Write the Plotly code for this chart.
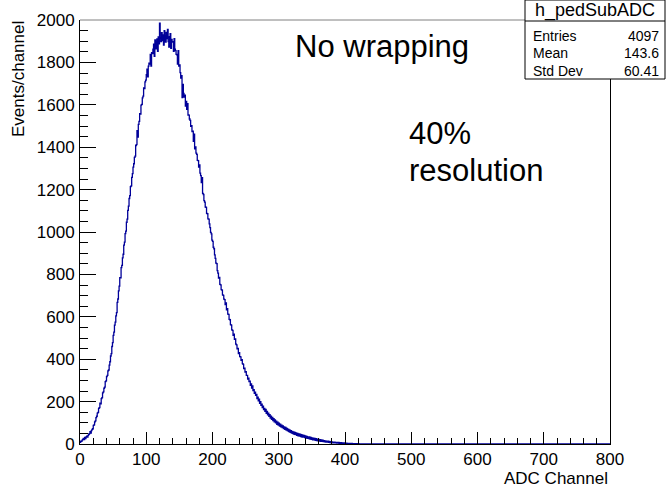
import numpy as np
import plotly.graph_objects as go

# ---------------- data ----------------
hist_name = "h_pedSubADC"
x_title = "ADC Channel"
y_title = "Events/channel"
x_range = [0, 800]
y_range = [0, 2000]
x_tick_vals = [0, 100, 200, 300, 400, 500, 600, 700, 800]
y_tick_vals = [0, 200, 400, 600, 800, 1000, 1200, 1400, 1600, 1800, 2000]

stats_labels = ["Entries", "Mean", "Std Dev"]
stats_values = ["4097", "143.6", "60.41"]

note_lines = ["No wrapping", "40%", "resolution"]

# counts per 1-channel bin, channels 0..799
counts = [
    8, 14, 12, 18, 22, 27, 21, 31, 26, 33,
    37, 32, 41, 46, 49, 58, 51, 63, 69, 72,
    88, 90, 104, 109, 124, 131, 146, 149, 168, 172,
    193, 189, 214, 219, 241, 246, 263, 268, 294, 298,
    318, 324, 345, 349, 372, 388, 415, 426, 460, 478,
    512, 528, 561, 575, 604, 620, 668, 684, 722, 745,
    785, 784, 832, 843, 878, 895, 938, 952, 992, 1004,
    1046, 1061, 1102, 1122, 1158, 1172, 1214, 1218, 1258, 1275,
    1306, 1322, 1352, 1358, 1408, 1412, 1478, 1448, 1508, 1522,
    1558, 1556, 1598, 1602, 1633, 1641, 1680, 1676, 1708, 1716,
    1742, 1768, 1732, 1782, 1797, 1792, 1838, 1782, 1846, 1842,
    1862, 1886, 1828, 1906, 1864, 1895, 1911, 1852, 1920, 1888,
    1985, 1914, 1898, 1940, 1903, 1930, 1882, 1950, 1924, 1896,
    1941, 1912, 1956, 1898, 1872, 1921, 1936, 1866, 1908, 1898,
    1896, 1852, 1912, 1862, 1856, 1838, 1836, 1792, 1856, 1782,
    1788, 1752, 1726, 1738, 1634, 1696, 1654, 1636, 1646, 1594,
    1616, 1578, 1606, 1552, 1551, 1533, 1527, 1498, 1502, 1473,
    1476, 1428, 1462, 1392, 1401, 1372, 1366, 1338, 1337, 1306,
    1317, 1278, 1266, 1233, 1256, 1182, 1177, 1148, 1141, 1118,
    1116, 1088, 1086, 1062, 1061, 1038, 1021, 998, 991, 962,
    956, 928, 921, 892, 876, 853, 851, 818, 806, 783,
    786, 753, 751, 728, 726, 703, 701, 683, 681, 658,
    666, 633, 638, 613, 611, 588, 586, 563, 561, 538,
    536, 513, 518, 494, 496, 471, 468, 449, 451, 426,
    431, 412, 411, 394, 398, 379, 376, 356, 358, 339,
    341, 324, 324, 306, 311, 294, 296, 277, 284, 264,
    274, 252, 256, 239, 244, 229, 234, 214, 221, 204,
    211, 192, 200, 182, 188, 172, 178, 162, 168, 154,
    163, 144, 154, 137, 146, 131, 138, 122, 131, 116,
    126, 110, 119, 104, 114, 100, 108, 93, 103, 89,
    98, 85, 94, 81, 89, 77, 85, 73, 81, 69,
    78, 66, 74, 62, 70, 59, 66, 55, 63, 52,
    60, 49, 57, 46, 55, 44, 52, 41, 50, 39,
    48, 37, 46, 35, 44, 33, 42, 32, 40, 30,
    38, 28, 36, 27, 34, 25, 33, 23, 31, 22,
    29, 20, 28, 19, 26, 17, 25, 16, 23, 15,
    22, 14, 20, 13, 19, 12, 18, 11, 16, 10,
    15, 9, 14, 9, 13, 8, 12, 7, 11, 6,
    10, 6, 9, 5, 9, 5, 8, 4, 7, 4,
    7, 3, 6, 3, 6, 3, 5, 2, 5, 2,
    4, 2, 4, 2, 3, 1, 3, 1, 3, 1,
    3, 1, 2, 1, 2, 1, 2, 0, 2, 0,
    2, 0, 1, 0, 1, 1, 0, 1, 0, 1,
    1, 0, 0, 1, 0, 1, 0, 0, 1, 0,
    0, 1, 0, 0, 0, 1, 0, 0, 0, 1,
    0, 0, 0, 1, 0, 0, 0, 0, 1, 0,
    0, 0, 0, 0, 0, 0, 0, 0, 0, 0, 0, 0, 0, 0, 0, 0, 0, 0, 0, 0,
    0, 0, 0, 0, 0, 0, 0, 0, 0, 0, 0, 0, 0, 0, 0, 0, 0, 0, 0, 0,
    0, 0, 0, 0, 0, 0, 0, 0, 0, 0, 0, 0, 0, 0, 0, 0, 0, 0, 0, 0,
    0, 0, 0, 0, 0, 0, 0, 0, 0, 0, 0, 0, 0, 0, 0, 0, 0, 0, 0, 0,
    0, 0, 0, 0, 0, 0, 0, 0, 0, 0, 0, 0, 0, 0, 0, 0, 0, 0, 0, 0,
    0, 0, 0, 0, 0, 0, 0, 0, 0, 0, 0, 0, 0, 0, 0, 0, 0, 0, 0, 0,
    0, 0, 0, 0, 0, 0, 0, 0, 0, 0, 0, 0, 0, 0, 0, 0, 0, 0, 0, 0,
    0, 0, 0, 0, 0, 0, 0, 0, 0, 0, 0, 0, 0, 0, 0, 0, 0, 0, 0, 0,
    0, 0, 0, 0, 0, 0, 0, 0, 0, 0, 0, 0, 0, 0, 0, 0, 0, 0, 0, 0,
    0, 0, 0, 0, 0, 0, 0, 0, 0, 0, 0, 0, 0, 0, 0, 0, 0, 0, 0, 0,
    0, 0, 0, 0, 0, 0, 0, 0, 0, 0, 0, 0, 0, 0, 0, 0, 0, 0, 0, 0,
    0, 0, 0, 0, 0, 0, 0, 0, 0, 0, 0, 0, 0, 0, 0, 0, 0, 0, 0, 0,
    0, 0, 0, 0, 0, 0, 0, 0, 0, 0, 0, 0, 0, 0, 0, 0, 0, 0, 0, 0,
    0, 0, 0, 0, 0, 0, 0, 0, 0, 0, 0, 0, 0, 0, 0, 0, 0, 0, 0, 0,
    0, 0, 0, 0, 0, 0, 0, 0, 0, 0, 0, 0, 0, 0, 0, 0, 0, 0, 0, 0,
    0, 0, 0, 0, 0, 0, 0, 0, 0, 0, 0, 0, 0, 0, 0, 0, 0, 0, 0, 0,
    0, 0, 0, 0, 0, 0, 0, 0, 0, 0, 0, 0, 0, 0, 0, 0, 0, 0, 0, 0,
]

# ---------------- layout constants ----------------
W, H = 666, 488
ML, MR, MT, MB = 80, 56, 20, 44
PW, PH = W - ML - MR, H - MT - MB
FONT = "Liberation Sans, Arial, Helvetica, sans-serif"
LINE_COLOR = "#000099"


def px(x):
    return (x - ML) / PW


def py(y):
    return (H - MB - y) / PH


n_bins = len(counts)
edges = np.linspace(x_range[0], x_range[1], n_bins + 1)
step_y = list(counts) + [counts[-1]]

fig = go.Figure()
fig.add_trace(go.Scatter(
    x=edges, y=step_y, mode="lines",
    line=dict(color=LINE_COLOR, width=1.3, shape="hv"),
    hoverinfo="skip", showlegend=False,
))

axis_common = dict(
    showgrid=False, zeroline=False, showline=True, linecolor="black",
    linewidth=1, ticks="inside", tickcolor="black",
    tickwidth=1, tickfont=dict(family=FONT, size=17, color="black"),
)

fig.update_xaxes(
    range=x_range, tickvals=x_tick_vals, ticklen=12, mirror=False,
    minor=dict(ticks="inside", ticklen=6, dtick=20, tickcolor="black",
               showgrid=False),
    ticklabelstandoff=0,
    **axis_common,
)
fig.update_yaxes(
    range=y_range, tickvals=y_tick_vals, ticklen=16, mirror=True,
    minor=dict(ticks="inside", ticklen=8, dtick=50, tickcolor="black",
               showgrid=False),
    ticklabelstandoff=1,
    **axis_common,
)

annotations = []
# axis titles
annotations.append(dict(
    text=x_title, xref="paper", yref="paper", x=px(610), y=py(478),
    xanchor="right", yanchor="middle", showarrow=False,
    font=dict(family=FONT, size=17, color="black"),
))
annotations.append(dict(
    text=y_title, xref="paper", yref="paper", x=px(18), y=py(19),
    xanchor="center", yanchor="top", textangle=-90, showarrow=False,
    font=dict(family=FONT, size=17, color="black"),
))
# free text
annotations.append(dict(
    text=note_lines[0], xref="paper", yref="paper", x=px(293), y=py(47),
    xanchor="left", yanchor="middle", showarrow=False,
    font=dict(family=FONT, size=31, color="black"),
))
annotations.append(dict(
    text=note_lines[1], xref="paper", yref="paper", x=px(407), y=py(133),
    xanchor="left", yanchor="middle", showarrow=False,
    font=dict(family=FONT, size=31, color="black"),
))
annotations.append(dict(
    text=note_lines[2], xref="paper", yref="paper", x=px(407), y=py(170),
    xanchor="left", yanchor="middle", showarrow=False,
    font=dict(family=FONT, size=31, color="black"),
))

# frame top edge (grey) and stats box
box_l, box_r, box_t, box_b, box_sep = 525, 665, 0, 79, 21
shapes = [
    dict(type="line", xref="paper", yref="paper", x0=0, x1=1, y0=1, y1=1,
         line=dict(color="#808080", width=1), layer="above"),
    dict(type="rect", xref="paper", yref="paper",
         x0=px(box_l), x1=px(box_r), y0=py(box_b), y1=py(box_t),
         line=dict(color="black", width=1), fillcolor="white", layer="above"),
    dict(type="line", xref="paper", yref="paper",
         x0=px(box_l), x1=px(box_r), y0=py(box_sep), y1=py(box_sep),
         line=dict(color="black", width=1), layer="above"),
]
annotations.append(dict(
    text=hist_name, xref="paper", yref="paper", x=px((box_l + box_r) / 2),
    y=py(10.5), xanchor="center", yanchor="middle", showarrow=False,
    font=dict(family=FONT, size=18, color="black"),
))
row_y = [36, 53.5, 70.5]
for lab, val, ry in zip(stats_labels, stats_values, row_y):
    annotations.append(dict(
        text=lab, xref="paper", yref="paper", x=px(531), y=py(ry),
        xanchor="left", yanchor="middle", showarrow=False,
        font=dict(family=FONT, size=14, color="black"),
    ))
    annotations.append(dict(
        text=val, xref="paper", yref="paper", x=px(661), y=py(ry),
        xanchor="right", yanchor="middle", showarrow=False,
        font=dict(family=FONT, size=14, color="black"),
    ))

fig.update_layout(
    width=W, height=H,
    margin=dict(l=ML, r=MR, t=MT, b=MB, pad=0),
    paper_bgcolor="white", plot_bgcolor="white",
    showlegend=False, annotations=annotations, shapes=shapes,
    font=dict(family=FONT, color="black"),
)

fig.write_html(
    "out.html",
    config={"displayModeBar": False},
    post_script="document.body.style.margin='0';document.body.style.padding='0';",
)
